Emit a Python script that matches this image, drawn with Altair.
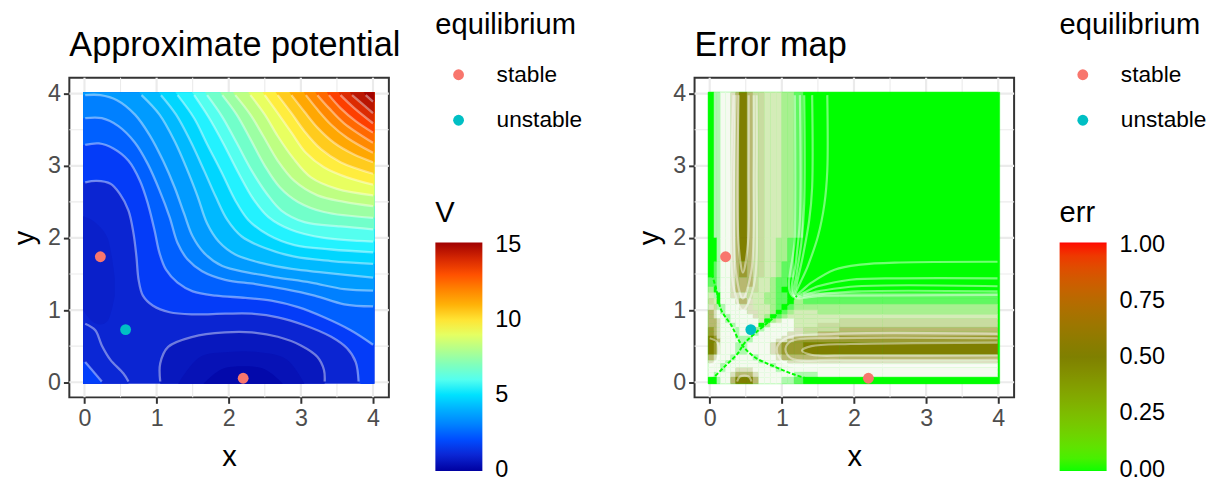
import altair as alt
import pandas as pd

FONT = "Liberation Sans"
BLACK = "#000000"

# ---------- equilibria ----------
eq_x = [0.22, 2.20, 0.57]
eq_y = [1.74, 0.055, 0.73]
eq_kind = ["stable", "stable", "unstable"]

major = [0, 1, 2, 3, 4]
minor = [0.5, 1.5, 2.5, 3.5]

# ---------- V colour scale ----------
v_domain = [-0.08, 1.82, 3.73, 5.63, 7.54, 9.44, 11.34, 13.25, 15.15]
v_colors = ["#0000A0", "#0040FF", "#00A0FF", "#50FFFF", "#A0FFA0", "#FFFF50", "#FFA000", "#FF4000", "#A00000"]
v_ticks = [0, 5, 10, 15]

# ---------- contours of V: (x list, y list) ----------
well_contour = ([1.05,1.05,1.16,1.50,1.95,2.32,2.68,3.00,3.23,3.32,3.33],[0.01,0.26,0.49,0.63,0.69,0.69,0.63,0.51,0.35,0.17,0.01])
v_contours = [
 ([0.01,0.17,0.36,0.49,0.61,0.68,0.72,0.75,0.81,0.95,1.18,1.50,1.95,2.32,2.68,3.05,3.42,3.64,3.76,3.80],[2.77,2.79,2.75,2.61,2.38,2.06,1.74,1.42,1.20,1.06,0.97,0.94,0.95,0.95,0.90,0.79,0.63,0.47,0.28,0.01]),
 ([0.01,0.20,0.40,0.61,0.77,0.88,0.97,1.04,1.13,1.29,1.50,1.82,2.23,2.59,2.96,3.32,3.69,4.00],[3.29,3.31,3.24,3.07,2.79,2.47,2.11,1.79,1.56,1.38,1.26,1.20,1.17,1.13,1.04,0.90,0.72,0.52]),
 ([0.01,0.24,0.47,0.70,0.88,1.04,1.18,1.29,1.43,1.63,1.95,2.37,2.78,3.19,3.60,4.00],[3.66,3.66,3.55,3.32,3.02,2.66,2.29,1.93,1.70,1.54,1.42,1.36,1.29,1.20,1.08,1.05]),
 ([0.01,0.22,0.45,0.70,0.90,1.09,1.25,1.38,1.50,1.66,1.91,2.27,2.68,3.14,3.60,4.00],[3.98,3.98,3.91,3.71,3.43,3.07,2.70,2.34,2.02,1.79,1.61,1.52,1.45,1.38,1.29,1.27]),
 ([0.79,1.04,1.25,1.43,1.57,1.70,1.86,2.09,2.46,2.87,3.32,4.00],[3.98,3.71,3.34,2.93,2.57,2.20,1.95,1.77,1.65,1.57,1.52,1.45]),
 ([1.06,1.27,1.47,1.66,1.82,1.98,2.18,2.50,2.91,3.42,4.00],[3.98,3.71,3.34,2.93,2.57,2.25,2.02,1.86,1.74,1.68,1.64]),
 ([1.29,1.52,1.70,1.91,2.09,2.27,2.55,2.91,3.42,4.00],[3.98,3.66,3.30,2.89,2.52,2.25,2.04,1.90,1.84,1.80]),
 ([1.52,1.73,1.93,2.14,2.34,2.55,2.87,3.32,4.00],[3.98,3.66,3.30,2.89,2.54,2.29,2.11,2.00,1.95]),
 ([1.70,1.91,2.11,2.32,2.53,2.73,3.05,3.55,4.00],[3.98,3.68,3.32,2.93,2.61,2.38,2.22,2.16,2.12]),
 ([1.91,2.11,2.30,2.50,2.71,2.96,3.32,4.00],[3.98,3.71,3.37,3.00,2.70,2.50,2.36,2.28]),
 ([2.09,2.30,2.48,2.68,2.91,3.23,3.60,4.00],[3.98,3.71,3.41,3.07,2.79,2.59,2.50,2.44]),
 ([2.30,2.50,2.68,2.89,3.14,3.50,4.00],[3.98,3.71,3.41,3.11,2.84,2.68,2.59]),
 ([2.50,2.68,2.87,3.07,3.32,3.64,4.00],[3.98,3.73,3.46,3.18,2.98,2.84,2.74]),
 ([2.68,2.87,3.05,3.28,3.55,4.00],[3.98,3.73,3.48,3.23,3.05,2.89]),
 ([2.87,3.05,3.23,3.46,3.73,4.00],[3.98,3.75,3.53,3.32,3.16,3.05]),
 ([3.07,3.23,3.42,3.64,4.00],[3.98,3.78,3.57,3.39,3.18]),
 ([3.23,3.39,3.60,4.00],[3.98,3.80,3.59,3.32]),
 ([3.39,3.55,3.76,4.00],[3.98,3.80,3.62,3.46]),
 ([3.55,3.74,4.00],[3.98,3.80,3.59]),
 ([3.71,4.00],[3.98,3.73]),
 ([3.90,4.00],[3.98,3.89]),
]
# V read between each contour above and the next one
band_values = [1.68,2.33,2.98,3.6,4.18,4.75,5.35,6.0,6.72,7.48,8.25,9.05,9.8,10.5,11.2,11.9,12.6,13.28,13.95,14.65,15.1]
corner_contours = [
 ([0.01,0.15,0.24,0.36,0.54,0.61],[0.81,0.72,0.51,0.31,0.12,0.01]),
 ([0.01,0.24],[0.28,0.01]),
]
corner_values = [1.0, 1.75]
base_value = 0.95
well_value = 0.55
# deeper regions read inside the two basins: V, x list, lower y list, upper y list
deep_regions = [
 (0.38, [1.30,1.60,2.00,2.40,2.80,3.05], [-0.02]*6, [-0.02,0.35,0.42,0.42,0.32,-0.02]),
 (0.15, [1.65,1.90,2.20,2.50,2.75], [-0.02]*5, [-0.02,0.18,0.22,0.18,-0.02]),
 (0.78, [-0.02,0.10,0.22,0.32,0.42], [1.00,0.85,0.80,0.85,1.20], [2.30,2.25,2.15,2.00,1.45]),
]

# ---------- error map: tones read on an uneven grid (rows top to bottom) ----------
e_x_edges = [-0.02,0.06,0.1,0.15,0.22,0.29,0.36,0.41,0.52,0.6,0.68,0.76,0.84,0.92,1.0,1.08,1.17,1.3,1.5,1.8,2.4,3.99]
e_y_edges = [4.02,2.0,1.67,1.45,1.32,1.24,1.16,1.08,1.0,0.94,0.88,0.82,0.76,0.7,0.64,0.6,0.55,0.38,0.3,0.26,0.2,0.14,0.07,-0.02]
e_rows = [
 "0aa556797443332210000",
 "00a556797443322100000",
 "01a556787443321100000",
 "11a556777433211000000",
 "20a556774433210000000",
 "3a0556664332211001111",
 "430555676332211021111",
 "64aa55566333210122222",
 "765a55556633201233222",
 "7655a5555632012333333",
 "7765a5555530235533344",
 "77655a555502555533444",
 "876555a552a5555564477",
 "876555a55a55555664777",
 "986555aaa555556677788",
 "9975555aa555566788888",
 "986555aa5555678889999",
 "76555a555a55567777777",
 "6555a55555a5555666666",
 "555a55555555a55555555",
 "555a556665555a5555555",
 "5a55567776555555aa555",
 "00a55799975555aa10000",
]
tone_keys = list("0123456789a")
tone_colors = ["#00FF00","#60F860","#A8F090","#D4ECB8","#C8DCA0","#F5FAF0","#DCE0C0","#B8B870","#9A9A30","#7F7F00","#B0F8B0"]
err_domain = [-0.006, 0.505, 1.01]
err_colors = ["#00FF00", "#7F7F00", "#FF0000"]
err_ticks = [0, 0.25, 0.5, 0.75, 1.0]

# pale contours of the error map
e_contours = [
 ([1.63,1.63,1.59,1.50,1.36,1.20,1.41,1.73,2.09,2.64,3.99],[3.98,2.93,2.47,2.02,1.61,1.22,1.38,1.56,1.63,1.66,1.67]),
 ([1.42,1.42,1.38,1.29,1.20,1.18,1.50,1.95,2.64,3.99],[3.98,2.70,2.25,1.74,1.33,1.20,1.33,1.42,1.44,1.44]),
 ([1.31,1.31,1.27,1.20,1.17,1.50,2.05,3.99],[3.98,2.47,1.93,1.47,1.20,1.26,1.33,1.33]),
 ([1.25,1.25,1.20,1.16,1.50,2.05,3.99],[3.98,2.25,1.70,1.20,1.22,1.26,1.26]),
 ([1.18,1.18,1.14,1.59,3.99],[3.98,2.02,1.20,1.20,1.21]),
 ([0.40,0.40,0.46,0.53,0.54,0.54],[3.98,1.92,1.52,1.92,2.93,3.98]),
 ([0.36,0.36,0.46,0.58,0.61,0.61],[3.98,1.56,1.16,1.56,2.93,3.98]),
 ([0.33,0.33,0.46,0.61,0.65,0.65],[3.98,1.33,1.00,1.33,2.93,3.98]),
 ([3.99,1.95,1.41,1.28,1.41,1.95,3.99],[0.55,0.53,0.50,0.44,0.38,0.37,0.37]),
 ([3.99,1.73,1.13,1.05,1.13,1.73,3.99],[0.61,0.61,0.57,0.46,0.33,0.31,0.31]),
 ([3.99,1.73,1.04,0.93,1.04,1.73,3.99],[0.67,0.67,0.60,0.46,0.26,0.23,0.23]),
 ([0.38,0.42,0.54,0.58],[0.01,0.08,0.08,0.01]),
 ([0.0,0.10,0.13,0.08,0.0],[0.61,0.56,0.42,0.28,0.24]),
]
# narrow green valleys of the error map
e_valleys = [
 ([0.02,0.21,0.39,0.48,0.62,0.89,1.21],[0.03,0.22,0.40,0.54,0.67,0.90,1.20]),
 ([0.03,0.09,0.16,0.30,0.43,0.62,0.89,1.16,1.45],[1.50,1.29,1.00,0.79,0.54,0.35,0.22,0.11,0.02]),
]

DOMAIN = [-0.21, 4.22]
SIZE = 323


def axis(name, pad):
    return alt.Axis(values=major, format="d", grid=False, title=name, domain=False,
                    tickColor="#333333", tickWidth=2, tickSize=6, labelColor="#4D4D4D",
                    labelFont=FONT, labelFontSize=23.5, labelPadding=3,
                    titleFont=FONT, titleFontSize=29.4, titleFontWeight="normal", titleColor=BLACK, titlePadding=pad)


x_enc = alt.X("x:Q", scale=alt.Scale(domain=DOMAIN, nice=False, zero=False), axis=axis("x", 13))
y_enc = alt.Y("y:Q", scale=alt.Scale(domain=DOMAIN, nice=False, zero=False), axis=axis("y", 8))


def grid_layers():
    out = []
    for values, width in ((major, 2.2), (minor, 1.1)):
        out.append(alt.Chart(pd.DataFrame({"x": values})).mark_rule(color="#EBEBEB", strokeWidth=width).encode(x=x_enc))
        out.append(alt.Chart(pd.DataFrame({"y": values})).mark_rule(color="#EBEBEB", strokeWidth=width).encode(y=y_enc))
    return out


def lines_frame(paths):
    rec = []
    for k, (px, py) in enumerate(paths):
        for i, (a, b) in enumerate(zip(px, py)):
            rec.append({"id": k, "i": i, "x": a, "y": b})
    return pd.DataFrame(rec)


def line_layer(paths, color, opacity, width, dash=None):
    kw = {"strokeDash": dash} if dash else {}
    return alt.Chart(lines_frame(paths)).mark_line(
        color=color, opacity=opacity, strokeWidth=width, interpolate="catmull-rom", **kw
    ).encode(x=x_enc, y=y_enc, detail="id:N", order="i:Q")


def gradient_legend(title, values, fmt, lx):
    return alt.Legend(type="gradient", orient="none", legendX=lx, legendY=123, title=title, values=values, format=fmt,
                      gradientLength=231, gradientThickness=47.5, gradientStrokeWidth=0,
                      titleFont=FONT, titleFontSize=29.4, titleFontWeight="normal", titleColor=BLACK, titlePadding=14,
                      labelFont=FONT, labelFontSize=23.7, labelColor=BLACK, labelOffset=13,
                      labelBaseline="middle", labelOverlap=False, padding=0)


def points_layer(lx):
    df = pd.DataFrame({"x": eq_x, "y": eq_y, "equilibrium": eq_kind})
    return alt.Chart(df).mark_circle(size=120, opacity=1).encode(
        x=x_enc, y=y_enc,
        color=alt.Color("equilibrium:N",
                        scale=alt.Scale(domain=["stable", "unstable"], range=["#F8766D", "#00BFC4"]),
                        legend=alt.Legend(orient="none", legendX=lx, legendY=-67, title="equilibrium",
                                          symbolType="circle", symbolSize=120, symbolOffset=12,
                                          rowPadding=22, titlePadding=23,
                                          titleFont=FONT, titleFontSize=29.4, titleFontWeight="normal",
                                          titleColor=BLACK, labelFont=FONT, labelFontSize=22.9,
                                          labelColor=BLACK, labelOffset=27, padding=0)),
    )


def title(text):
    return alt.TitleParams(text=text, anchor="start", frame="group", font=FONT, fontSize=34.6,
                           fontWeight="normal", color=BLACK, offset=-53)


# ---------- panel 1: regions painted from low V upward, then the basins ----------
rec = []


def add_region(rid, v, px, lo, hi):
    for a, b, c in zip(px, lo, hi):
        rec.append({"id": rid, "V": v, "x": a, "y": b, "y2": c})


rid = 0
add_region(rid, base_value, [-0.02, 4.02], [-0.02, -0.02], [4.02, 4.02])
for (px, py), v in zip(v_contours, band_values):
    rid += 1
    px, py = list(px), list(py)
    if px[0] < 0.1:
        px, py = [-0.02] + px, [py[0]] + py
    else:
        px, py = [px[0] - 0.03] + px, [4.02] + py
    if px[-1] < 3.9:
        px, py = px + [px[-1] + 0.03, 4.02], py + [-0.02, -0.02]
    else:
        px, py = px + [4.02], py + [py[-1]]
    add_region(rid, v, px, py, [4.02] * len(px))
for (px, py), v in zip(corner_contours, corner_values):
    rid += 1
    px2, py2 = [-0.02] + list(px), [py[0]] + list(py)
    add_region(rid, v, px2, [-0.02] * len(px2), py2)
rid += 1
add_region(rid, well_value, well_contour[0], [-0.02] * len(well_contour[0]), well_contour[1])
for v, px, lo, hi in deep_regions:
    rid += 1
    add_region(rid, v, px, lo, hi)
v_df = pd.DataFrame(rec)
v_scale = alt.Scale(domain=v_domain, range=v_colors, nice=False, zero=False)
heat = alt.Chart(v_df).mark_area(interpolate="catmull-rom", opacity=1).encode(
    x=x_enc, y=y_enc, y2="y2:Q", detail="id:N",
    color=alt.Color("V:Q", scale=v_scale, legend=gradient_legend("V", v_ticks, "d", 370)),
)
all_v_lines = [well_contour] + v_contours + corner_contours
panel1 = alt.layer(*grid_layers(), heat, line_layer(all_v_lines, "#FFFFFF", 0.42, 2.3), points_layer(370)
                   ).resolve_scale(color="independent").properties(
    width=SIZE, height=SIZE, title=title("Approximate potential"))

# ---------- panel 2 ----------
rec = [{"x": -0.02, "x2": 4.02, "y": -0.02, "y2": 4.02, "tone": "0"}]
for j, row in enumerate(e_rows):
    for i, ch in enumerate(row):
        rec.append({"x": e_x_edges[i], "x2": e_x_edges[i + 1], "y": e_y_edges[j + 1], "y2": e_y_edges[j], "tone": ch})
e_df = pd.DataFrame(rec)
tone_scale = alt.Scale(domain=tone_keys, range=tone_colors)
tones = alt.Chart(e_df).mark_rect(strokeWidth=0.5).encode(
    x=x_enc, x2="x2:Q", y=y_enc, y2="y2:Q",
    color=alt.Color("tone:N", scale=tone_scale, legend=None),
    stroke=alt.Stroke("tone:N", scale=tone_scale, legend=None),
)
err_df = pd.DataFrame({"x": [0, 0, 0, 0, 0], "y": [0, 0, 0, 0, 0], "err": err_ticks})
err_key = alt.Chart(err_df).mark_circle(opacity=0).encode(
    x=x_enc, y=y_enc,
    color=alt.Color("err:Q", scale=alt.Scale(domain=err_domain, range=err_colors, nice=False, zero=False),
                    legend=gradient_legend("err", err_ticks, ".2f", 369)),
)
panel2 = alt.layer(*grid_layers(), tones, err_key,
                   line_layer(e_contours, "#FFFFFF", 0.45, 2.2),
                   line_layer(e_valleys, "#00FF00", 1, 2, [4, 2]),
                   points_layer(369)
                   ).resolve_scale(color="independent", stroke="independent").properties(
    width=SIZE, height=SIZE, title=title("Error map"))

chart = alt.hconcat(panel1, panel2, spacing=50).properties(
    padding={"left": 0, "top": 0, "right": 0, "bottom": 0}
).configure_view(stroke="#333333", strokeWidth=2)

chart.save("out.html", embed_options={"renderer": "svg", "actions": False})
